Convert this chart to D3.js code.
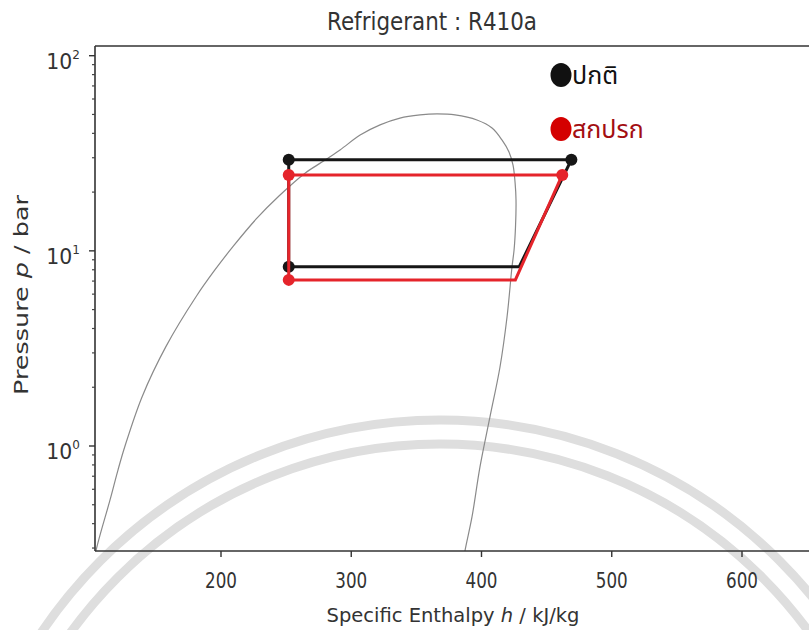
<!DOCTYPE html>
<html>
<head>
<meta charset="utf-8">
<script src="https://cdn.jsdelivr.net/npm/d3@7"></script>
<style>
body{margin:0;background:#fff;}
svg{display:block;}
</style>
</head>
<body>
<script>

// saturation dome of R410a (h in kJ/kg, p in bar)
var domeH = [101, 104, 114.8, 120.9, 126.3, 139.6, 157.9, 181.2, 195.3, 209.6, 227.6, 244.5,
             264.5, 277.5, 291.4, 306.8, 322.1, 337.4, 352.8, 365.8, 379.7, 396.5, 408.1, 415.7,
             421.1, 424.2, 425.8, 426.5, 426.1, 425.0, 423.4, 419.6, 414.2, 406.5, 398.8, 392.7,
             387.3, 384.3];
var domeP = [0.218, 0.29, 0.529, 0.753, 1.0, 1.8, 3.25, 5.87, 7.98, 10.6, 14.7, 19.1,
             25.0, 28.5, 32.9, 39.2, 44.2, 47.9, 49.7, 50.3, 49.7, 46.8, 42.6, 37.0,
             32.1, 27.5, 22.3, 18.2, 13.25, 10.1, 8.27, 4.58, 2.54, 1.41, 0.78, 0.433,
             0.29, 0.218];

// refrigeration cycle: condenser out, compressor out, evaporator out, evaporator in
var normalH = [252, 469, 429, 252];
var normalP = [29.3, 29.3, 8.3, 8.3];
var dirtyH = [252, 462, 426, 252];
var dirtyP = [24.5, 24.5, 7.1, 7.1];

var xTicks = [200, 300, 400, 500, 600];
var yMajor = [1, 10, 100];
var yMinor = [0.3, 0.4, 0.5, 0.6, 0.7, 0.8, 0.9, 2, 3, 4, 5, 6, 7, 8, 9, 20, 30, 40, 50, 60, 70, 80, 90];
var legendLabels = ["ปกติ", "สกปรก"];
var legendColors = ["#111", "#d40000"];
var legendText = ["#111", "#a30e12"];

var width = 809, height = 630;
var plotLeft = 95, plotTop = 46, plotBottom = 551;

var svg = d3.select("body").append("svg")
    .attr("width", width)
    .attr("height", height);

var xScale = d3.scaleLinear().domain([200, 600]).range([221, 742]);
var yScale = d3.scaleLog().domain([1, 100]).range([446, 55.7]);

// faint watermark arcs behind the chart
var wm = svg.append("g").attr("fill", "none").attr("stroke", "#dedede").attr("stroke-width", 9);
[480, 456].forEach(function(r){
    wm.append("circle").attr("cx", 440).attr("cy", 900).attr("r", r);
});

svg.append("clipPath").attr("id", "plot")
  .append("rect").attr("x", plotLeft).attr("y", plotTop)
  .attr("width", width - plotLeft).attr("height", plotBottom - plotTop);

var plot = svg.append("g").attr("clip-path", "url(#plot)");

var line = d3.line()
    .x(function(d){ return xScale(d[0]); })
    .y(function(d){ return yScale(d[1]); });

// dome
plot.append("path")
    .datum(domeH.map(function(h, i){ return [h, domeP[i]]; }))
    .attr("d", line.curve(d3.curveCatmullRom.alpha(0.5)))
    .attr("fill", "none")
    .attr("stroke", "#8a8a8a")
    .attr("stroke-width", 1.2);

line.curve(d3.curveLinear);

function cycle(hs, ps, color){
    var pts = hs.map(function(h, i){ return [h, ps[i]]; });
    plot.append("path")
        .datum(pts.concat([pts[0]]))
        .attr("d", line)
        .attr("fill", "none")
        .attr("stroke", color)
        .attr("stroke-width", 3)
        .attr("stroke-linejoin", "miter");
    [0, 1, 3].forEach(function(i){
        plot.append("circle")
            .attr("cx", xScale(pts[i][0]))
            .attr("cy", yScale(pts[i][1]))
            .attr("r", 6)
            .attr("fill", color);
    });
}
cycle(normalH, normalP, "#161616");
cycle(dirtyH, dirtyP, "#e5242b");

// frame
var frame = svg.append("g").attr("stroke", "#333").attr("stroke-width", 1.6).attr("fill", "none");
frame.append("line").attr("x1", plotLeft).attr("x2", width).attr("y1", plotTop).attr("y2", plotTop);
frame.append("line").attr("x1", plotLeft).attr("x2", width).attr("y1", plotBottom).attr("y2", plotBottom);
frame.append("line").attr("x1", plotLeft).attr("x2", plotLeft).attr("y1", plotTop).attr("y2", plotBottom);

// x ticks
var xt = svg.append("g");
xTicks.forEach(function(t){
    xt.append("line").attr("x1", xScale(t)).attr("x2", xScale(t))
        .attr("y1", plotBottom).attr("y2", plotBottom + 6)
        .attr("stroke", "#333").attr("stroke-width", 1.4);
    xt.append("text").attr("x", xScale(t)).attr("y", 588)
        .attr("text-anchor", "middle")
        .attr("font-family", "DejaVu Sans")
        .attr("font-size", 21)
        .attr("textLength", 32).attr("lengthAdjust", "spacingAndGlyphs")
        .attr("fill", "#333")
        .text(t);
});

// y ticks
var yt = svg.append("g");
yMinor.forEach(function(t){
    if (yScale(t) < plotTop || yScale(t) > plotBottom) return;
    yt.append("line").attr("x1", plotLeft - 3).attr("x2", plotLeft)
        .attr("y1", yScale(t)).attr("y2", yScale(t))
        .attr("stroke", "#444").attr("stroke-width", 1.2);
});
yMajor.forEach(function(t){
    yt.append("line").attr("x1", plotLeft - 6).attr("x2", plotLeft)
        .attr("y1", yScale(t)).attr("y2", yScale(t))
        .attr("stroke", "#333").attr("stroke-width", 1.4);
    var lab = yt.append("text").attr("x", 80).attr("y", yScale(t) + 13)
        .attr("text-anchor", "end")
        .attr("font-family", "DejaVu Sans")
        .attr("font-size", 21)
        .attr("fill", "#333");
    lab.append("tspan").attr("textLength", 26).attr("lengthAdjust", "spacingAndGlyphs").text("10");
    lab.append("tspan").attr("dy", -10).attr("font-size", 12).text(Math.round(Math.log10(t)));
});

// title and axis labels
svg.append("text").attr("x", 432).attr("y", 30)
    .attr("text-anchor", "middle")
    .attr("font-family", "DejaVu Sans").attr("font-size", 24)
    .attr("textLength", 210).attr("lengthAdjust", "spacingAndGlyphs")
    .attr("fill", "#333")
    .text("Refrigerant : R410a");

var xl = svg.append("text").attr("x", 453).attr("y", 622)
    .attr("text-anchor", "middle")
    .attr("font-family", "DejaVu Sans").attr("font-size", 19.5)
    .attr("fill", "#333");
xl.append("tspan").text("Specific Enthalpy ");
xl.append("tspan").attr("font-style", "italic").text("h");
xl.append("tspan").text(" / kJ/kg");

var yl = svg.append("text")
    .attr("transform", "translate(28,295) rotate(-90)")
    .attr("text-anchor", "middle")
    .attr("font-family", "DejaVu Sans").attr("font-size", 20)
    .attr("textLength", 200).attr("lengthAdjust", "spacingAndGlyphs")
    .attr("fill", "#333");
yl.append("tspan").text("Pressure ");
yl.append("tspan").attr("font-style", "italic").text("p");
yl.append("tspan").text(" / bar");

// legend
legendLabels.forEach(function(lbl, i){
    var cy = 75 + i * 54;
    svg.append("ellipse").attr("cx", 561).attr("cy", cy).attr("rx", 10.5).attr("ry", 12)
        .attr("fill", legendColors[i]);
    svg.append("text").attr("x", 572).attr("y", cy + 9)
        .attr("font-family", "Noto Sans Thai, Noto Sans, Loma, sans-serif")
        .attr("font-size", 25)
        .attr("fill", legendText[i])
        .text(lbl);
});

</script>
</body>
</html>
